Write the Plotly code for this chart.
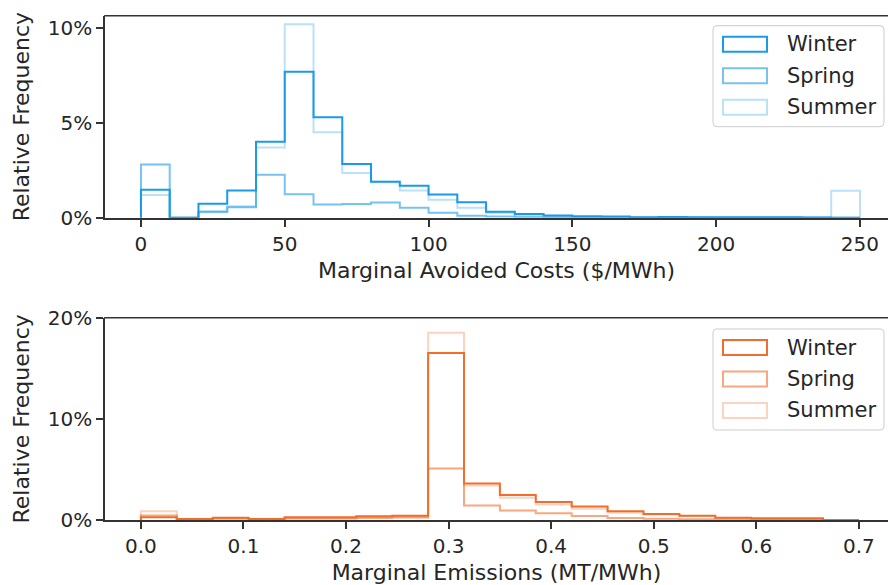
import plotly.graph_objects as go

# bin edges of the two histograms
cost_edges = [0, 10, 20, 30, 40, 50, 60, 70, 80, 90, 100, 110, 120, 130,
              140, 150, 160, 170, 180, 190, 200, 210, 220, 230, 240, 250]
emis_edges = [0.0, 0.035, 0.07, 0.105, 0.14, 0.175, 0.21, 0.245, 0.28, 0.315,
              0.35, 0.385, 0.42, 0.455, 0.49, 0.525, 0.56, 0.595, 0.63, 0.665, 0.7]

seasons = ["Winter", "Spring", "Summer"]

# relative frequency (%) per bin
winter_cost = [1.47, 0.0, 0.74, 1.44, 4.0, 7.7, 5.3, 2.83, 1.9, 1.68, 1.22, 0.82, 0.32,
               0.2, 0.12, 0.08, 0.06, 0.02, 0.04, 0.02, 0.03, 0.03, 0.02, 0.01, 0.0]
spring_cost = [2.8, 0.0, 0.3, 0.55, 2.26, 1.23, 0.7, 0.72, 0.8, 0.53, 0.26, 0.1, 0.06,
               0.03, 0.02, 0.01, 0.0, 0.0, 0.0, 0.0, 0.0, 0.0, 0.0, 0.0, 0.0]
summer_cost = [1.2, 0.0, 0.35, 0.61, 3.7, 10.2, 4.5, 2.36, 1.9, 1.44, 0.95, 0.53, 0.25,
               0.1, 0.05, 0.03, 0.02, 0.0, 0.0, 0.0, 0.0, 0.0, 0.0, 0.0, 1.42]

winter_emis = [0.27, 0.1, 0.23, 0.1, 0.27, 0.27, 0.37, 0.43, 16.5, 3.6,
               2.47, 1.77, 1.33, 0.87, 0.6, 0.43, 0.23, 0.17, 0.17, 0.0]
spring_emis = [0.45, 0.05, 0.15, 0.05, 0.15, 0.15, 0.2, 0.25, 5.1, 1.43,
               0.93, 0.67, 0.4, 0.2, 0.12, 0.08, 0.05, 0.03, 0.02, 0.0]
summer_emis = [0.87, 0.08, 0.15, 0.08, 0.2, 0.2, 0.3, 0.35, 18.5, 3.4,
               2.2, 1.53, 1.1, 0.73, 0.55, 0.4, 0.2, 0.1, 0.05, 0.0]

# tick labels
cost_ticks = [0, 50, 100, 150, 200, 250]
emis_ticks = [0.0, 0.1, 0.2, 0.3, 0.4, 0.5, 0.6, 0.7]
cost_freq_ticks = [0, 5, 10]
cost_freq_labels = ["0%", "5%", "10%"]
emis_freq_ticks = [0, 10, 20]
emis_freq_labels = ["0%", "10%", "20%"]

W, H = 888, 585
BLUE = (26, 154, 232)
ORANGE = (243, 108, 44)
ALPHAS = [1.0, 0.6, 0.3]
FONT = "DejaVu Sans"
TXT = "#262626"
AX = "#333333"


def px(x):
    return x / W


def py(y):
    return 1 - y / H


def rgba(c, a):
    return "rgba(%d,%d,%d,%.2f)" % (c[0], c[1], c[2], a)


def step_xy(edges, vals):
    # outline of a step histogram
    return [edges[0]] + list(edges), [0] + list(vals) + [0]


def rounded_box(x0, y0, x1, y1, r):
    pts = lambda x, y: "%f,%f" % (px(x), py(y))
    return ("M" + pts(x0 + r, y0) + " L" + pts(x1 - r, y0) +
            " Q" + pts(x1, y0) + " " + pts(x1, y0 + r) +
            " L" + pts(x1, y1 - r) +
            " Q" + pts(x1, y1) + " " + pts(x1 - r, y1) +
            " L" + pts(x0 + r, y1) +
            " Q" + pts(x0, y1) + " " + pts(x0, y1 - r) +
            " L" + pts(x0, y0 + r) +
            " Q" + pts(x0, y0) + " " + pts(x0 + r, y0) + " Z")


fig = go.Figure()

panels = [
    ("x", "y", cost_edges, [winter_cost, spring_cost, summer_cost], BLUE),
    ("x2", "y2", emis_edges, [winter_emis, spring_emis, summer_emis], ORANGE),
]
for xa, ya, edges, series, col in panels:
    for name, vals, a in zip(seasons, series, ALPHAS):
        xs, ys = step_xy(edges, vals)
        fig.add_trace(go.Scatter(x=xs, y=ys, mode="lines", name=name,
                                 line=dict(color=rgba(col, a), width=2, shape="hv"),
                                 xaxis=xa, yaxis=ya, showlegend=False,
                                 hoverinfo="skip"))

axis_common = dict(showline=True, linecolor=AX, linewidth=1.6, ticks="outside",
                   ticklen=7, tickwidth=1.5, tickcolor=AX, showgrid=False,
                   zeroline=False, automargin=False, mirror=False,
                   tickfont=dict(family=FONT, size=20, color=TXT))
title_font = dict(family=FONT, size=22, color=TXT)

fig.update_layout(
    template="none",
    width=W, height=H,
    margin=dict(l=0, r=0, t=0, b=0),
    plot_bgcolor="white", paper_bgcolor="white",
    xaxis=dict(axis_common, domain=[px(105), 1], range=[-12.5, 259.75],
               tickvals=cost_ticks, anchor="y",
               title=dict(text="Marginal Avoided Costs ($/MWh)", font=title_font, standoff=8)),
    yaxis=dict(axis_common, domain=[py(217.7), py(15.7)], range=[0, 10.65],
               tickvals=cost_freq_ticks, ticktext=cost_freq_labels, anchor="x",
               title=dict(text="Relative Frequency", font=title_font, standoff=12)),
    xaxis2=dict(axis_common, domain=[px(105), 1], range=[-0.035, 0.7284],
                tickvals=emis_ticks, tickformat=".1f", anchor="y2",
                title=dict(text="Marginal Emissions (MT/MWh)", font=title_font, standoff=8)),
    yaxis2=dict(axis_common, domain=[py(520), py(317.7)], range=[0, 20],
                tickvals=emis_freq_ticks, ticktext=emis_freq_labels, anchor="x2",
                title=dict(text="Relative Frequency", font=title_font, standoff=12)),
)

shapes = []
annotations = []

# top spines (the right spines fall outside the picture)
for yref in ["y domain", "y2 domain"]:
    shapes.append(dict(type="line", xref="paper", yref=yref, x0=px(104.2), x1=1,
                       y0=1, y1=1, line=dict(color=AX, width=1.6)))

# legends drawn as boxes with outlined patches, like the original
for top, col in [(25.7, BLUE), (329.0, ORANGE)]:
    shapes.append(dict(type="path", xref="paper", yref="paper",
                       path=rounded_box(713, top, 884, top + 101, 4),
                       line=dict(color="#cccccc", width=1),
                       fillcolor="rgba(255,255,255,0.85)"))
    for i, (name, a) in enumerate(zip(seasons, ALPHAS)):
        cy = top + 18.5 + i * 31.5
        shapes.append(dict(type="rect", xref="paper", yref="paper",
                           x0=px(723), x1=px(767), y0=py(cy + 7.5), y1=py(cy - 7.5),
                           line=dict(color=rgba(col, a), width=2),
                           fillcolor="rgba(0,0,0,0)"))
        annotations.append(dict(xref="paper", yref="paper", x=px(785), y=py(cy),
                                text=name, showarrow=False, xanchor="left",
                                yanchor="middle",
                                font=dict(family=FONT, size=21, color=TXT)))

fig.update_layout(shapes=shapes, annotations=annotations)

fig.write_html("out.html", config={"displayModeBar": False},
               post_script="document.body.style.margin='0px';"
                           "document.body.style.overflow='hidden';")
